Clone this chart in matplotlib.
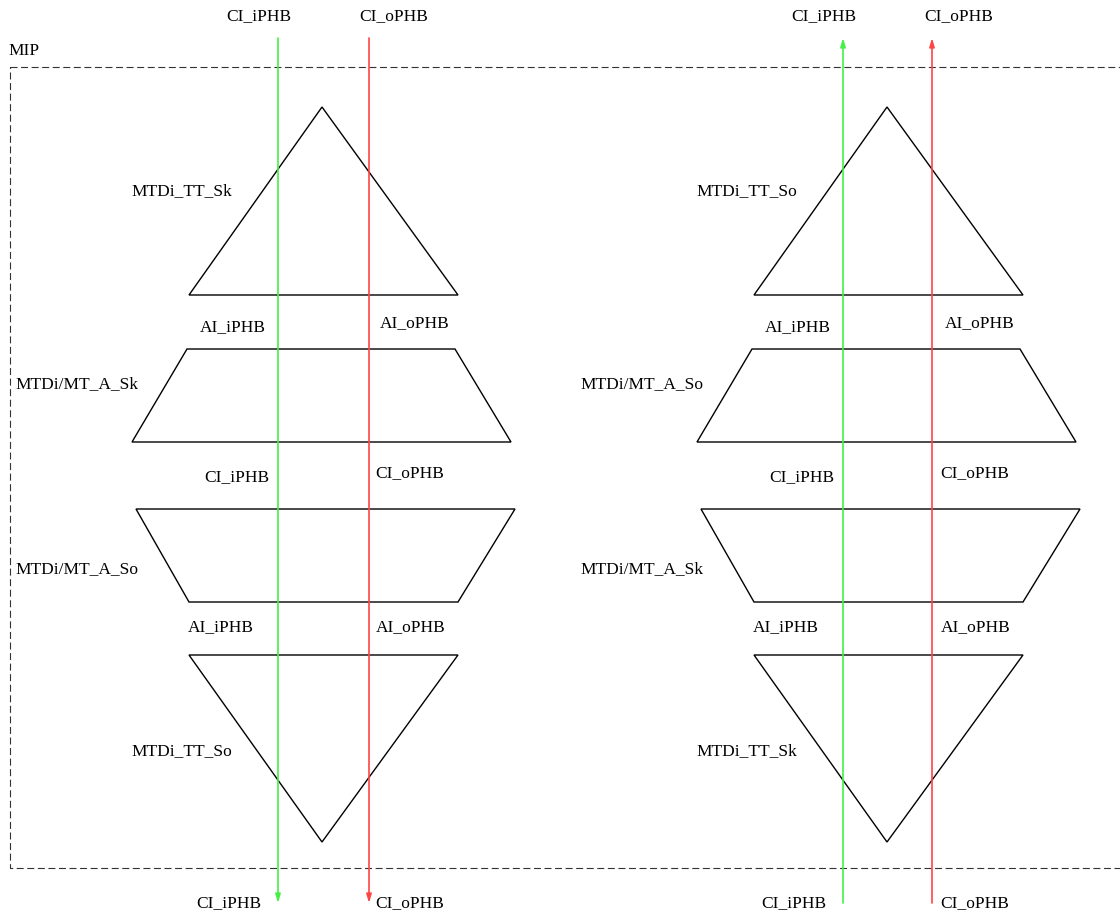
import matplotlib
matplotlib.use("Agg")
import matplotlib.pyplot as plt
from matplotlib.patches import Polygon

plt.rcParams['font.family'] = ['Liberation Serif', 'DejaVu Serif']

W, H = 1120, 916
# panel offsets (pixel space)
panel_x = [0, 565]
panel_dir = ['down', 'up']

# shapes: list of polygons (x, y) for the left panel
tri_up = [(322, 107), (189, 295), (458, 295)]
trap_1 = [(187, 349), (455, 349), (511, 442), (132, 442)]
trap_2 = [(136, 509), (515, 509), (458, 602), (189, 602)]
tri_down = [(189, 655), (458, 655), (322, 842)]
shapes = [tri_up, trap_1, trap_2, tri_down]

shape_labels = [
    ["MTDi_TT_Sk", "MTDi/MT_A_Sk", "MTDi/MT_A_So", "MTDi_TT_So"],
    ["MTDi_TT_So", "MTDi/MT_A_So", "MTDi/MT_A_Sk", "MTDi_TT_Sk"],
]
shape_label_pos = [(182, 191), (77, 384), (77, 569), (182, 751)]

# interface labels (text, x, y)
iface_labels = [
    ("AI_iPHB", 233, 327), ("AI_oPHB", 415, 323),
    ("CI_iPHB", 237, 477), ("CI_oPHB", 410, 473),
    ("AI_iPHB", 221, 627), ("AI_oPHB", 411, 627),
]
top_labels = [("CI_iPHB", 259, 16), ("CI_oPHB", 394, 16)]
bottom_labels = [("CI_iPHB", 229, 903), ("CI_oPHB", 410, 903)]
line_x = [[278, 369], [843, 932]]
line_colors = ['#44f044', '#ff4444']

fig = plt.figure(figsize=(W / 100, H / 100), dpi=100)
ax = fig.add_axes([0, 0, 1, 1])
ax.set_xlim(0, W)
ax.set_ylim(H, 0)
ax.axis('off')

fs = 12.5
# MIP dashed box
ax.plot([10, 1125, 1125, 10, 10], [67, 67, 868, 868, 67], color='#333333',
        lw=0.8, ls=(0, (6.3, 3.2)))
ax.text(8, 51, "MIP", fontsize=fs, ha='left', va='center')

for p, (dx, d) in enumerate(zip(panel_x, panel_dir)):
    for poly in shapes:
        ax.add_patch(Polygon([(x + dx, y) for x, y in poly], closed=True,
                             fill=False, edgecolor='black', lw=1))
    for lab, (x, y) in zip(shape_labels[p], shape_label_pos):
        ax.text(x + dx, y, lab, fontsize=fs, ha='center', va='center')
    for lab, x, y in iface_labels:
        ax.text(x + dx, y, lab, fontsize=fs, ha='center', va='center')
    for lab, x, y in top_labels:
        ax.text(x + dx, y, lab, fontsize=fs, ha='center', va='center')
    for lab, x, y in bottom_labels:
        ax.text(x + dx, y, lab, fontsize=fs, ha='center', va='center')
    for lx, c in zip(line_x[p], line_colors):
        if d == 'down':
            start, end = 38, 903
        else:
            start, end = 903, 38
        ax.annotate('', xy=(lx, end), xytext=(lx, start),
                    arrowprops=dict(arrowstyle='-|>,head_length=0.5,head_width=0.15',
                                    color=c, lw=1.2, shrinkA=0, shrinkB=0))

fig.savefig('out.png', dpi=100)
